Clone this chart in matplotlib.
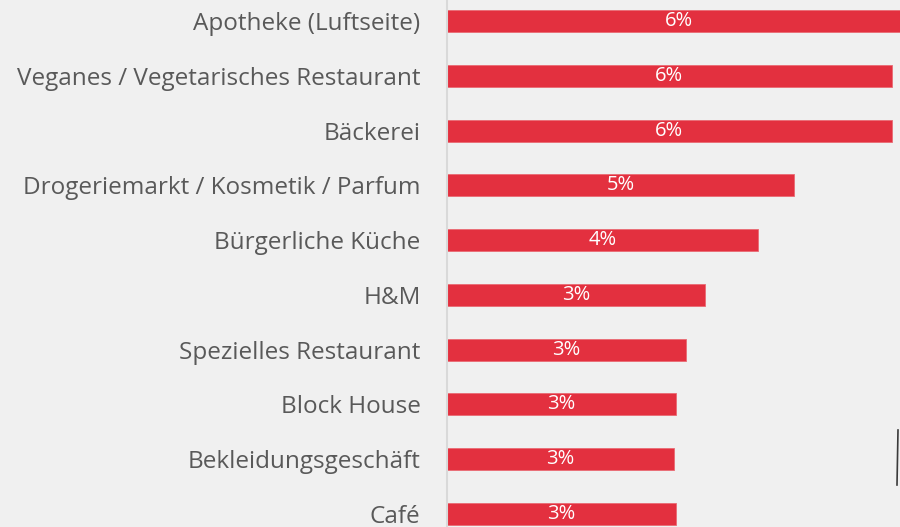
import matplotlib
matplotlib.use("Agg")
import matplotlib.pyplot as plt
from matplotlib.lines import Line2D

# data
categories = ["Apotheke (Luftseite)", "Veganes / Vegetarisches Restaurant",
              "Bäckerei", "Drogeriemarkt / Kosmetik / Parfum",
              "Bürgerliche Küche", "H&M", "Spezielles Restaurant",
              "Block House", "Bekleidungsgeschäft", "Café"]
values = [6.15, 5.9, 5.9, 4.6, 4.12, 3.42, 3.17, 3.04, 3.01, 3.04]
labels = ["6%", "6%", "6%", "5%", "4%", "3%", "3%", "3%", "3%", "3%"]

bg = "#F0F0F0"
red = "#E3303F"
grey = "#595959"

plt.rcParams['font.family'] = ['Open Sans', 'DejaVu Sans']

fig = plt.figure(figsize=(9, 5.27), dpi=100, facecolor=bg)
ax = fig.add_axes([447/900, 0, 453/900, 1], facecolor=bg)

ypos = list(range(len(categories)))
bars = ax.barh(ypos, values, height=0.4, color=red, edgecolor="#EA6A74",
               linewidth=0.6)

# labels centered inside bars (centre of the full bar, may be cut off)
for y, v, t in zip(ypos, values, labels):
    ax.text(v/2, y, t, color="white", ha="center", va="center", fontsize=14.5)

ax.set_xlim(0, 453/75.4)
ax.set_ylim(9 + 13/54.78, -21/54.78)
ax.set_yticks(ypos)
ax.set_yticklabels(categories, color=grey, fontsize=17.5)
ax.tick_params(axis="y", length=0, pad=19)
ax.set_xticks([])
for s in ["top", "right", "bottom"]:
    ax.spines[s].set_visible(False)
ax.spines["left"].set_color("#D9D9D9")
ax.spines["left"].set_linewidth(1.5)

# small dark stroke at the lower right edge
fig.add_artist(Line2D([898/900, 897/900], [1 - 430/527, 1 - 485/527],
                      color="#3a3a3a", linewidth=1.2))

fig.savefig("out.png", dpi=100, facecolor=bg)
